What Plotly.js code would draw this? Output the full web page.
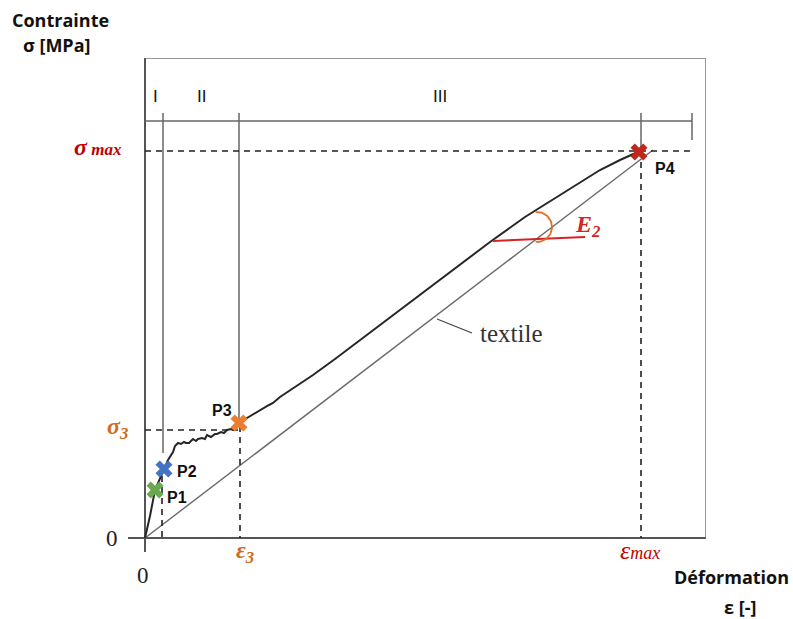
<!DOCTYPE html>
<html>
<head>
<meta charset="utf-8">
<script src="https://cdn.plot.ly/plotly-3.0.1.min.js"></script>
<style>
  html, body { margin: 0; padding: 0; background: #fff; }
  #chart { width: 793px; height: 619px; }
</style>
</head>
<body>
<div id="chart"></div>
<script>
// courbe contrainte - deformation (unites arbitraires)
const epsCourbe = [0, 0.05, 0.10, 0.15, 0.19, 0.23, 0.28, 0.30, 0.33, 0.36, 0.39, 0.41, 0.44, 0.48, 0.51, 0.53, 0.57, 0.60, 0.62, 0.66, 0.70, 0.72, 0.76, 0.79, 0.82, 0.86, 0.88, 0.92, 0.95,
                   1.02, 1.10, 1.17, 1.24, 1.28, 1.35, 1.50, 1.68, 1.90, 2.18, 2.55, 3.05, 3.45, 3.80, 4.15, 4.55, 4.75, 4.95];
const sigCourbe = [0, 0.22, 0.48, 0.60, 0.69, 0.78, 0.86, 0.92, 0.95, 0.94, 0.96, 0.95, 0.95, 0.99, 0.97, 0.99, 1.00, 0.99, 1.03, 1.01, 1.04, 1.04, 1.06, 1.05, 1.08, 1.09, 1.08, 1.12, 1.14,
                   1.20, 1.25, 1.29, 1.33, 1.35, 1.41, 1.51, 1.63, 1.79, 2.00, 2.28, 2.66, 2.96, 3.21, 3.43, 3.68, 3.78, 3.87];

const epsTextile = [0, 5.08];
const sigTextile = [0, 3.88];

// points caracteristiques
const nomsPoints = ["P1", "P2", "P3", "P4"];
const epsPoints = [0.10, 0.19, 0.94, 4.94];
const sigPoints = [0.48, 0.69, 1.15, 3.86];
const couleursPoints = ["#6aa84f", "#4472c4", "#ed7d31", "#c0281e"];

// domaines I, II, III
const nomsDomaines = ["I", "II", "III"];
const epsDomaines = [0.10, 0.56, 2.95];
const epsLimites = [0.18, 0.94, 4.96, 5.47];
const sigBasLimites = [0.85, 1.15, 3.86, 3.98];
const sigLigneHaut = 4.17;
const sigHautTraits = 4.25;

const sigMax = 3.87, epsMax = 4.96;
const sig3 = 1.08, eps3 = 0.95;

// droite E2
const epsE2 = [3.48, 4.40];
const sigE2 = [2.97, 3.01];
const arcCentre = [3.92, 3.11], arcRayon = 0.15;

const xRange = [-0.17, 5.61], yRange = [-0.14, 4.80];

const data = [];

data.push({ x: epsTextile, y: sigTextile, mode: "lines", line: { color: "#6a6a6a", width: 1.4 }, hoverinfo: "skip" });
data.push({ x: epsCourbe, y: sigCourbe, mode: "lines", line: { color: "#262626", width: 2 }, hoverinfo: "skip" });

// lignes pleines des domaines
const lx = [0, epsLimites[3], null], ly = [sigLigneHaut, sigLigneHaut, null];
epsLimites.forEach((e, i) => { lx.push(e, e, null); ly.push(sigHautTraits, sigBasLimites[i], null); });
data.push({ x: lx, y: ly, mode: "lines", line: { color: "#666", width: 1.5 }, hoverinfo: "skip" });

// pointilles
const dx = [0, epsLimites[3], null, 0, eps3 - 0.02, null, 0.17, 0.17, null, eps3, eps3, null, epsMax, epsMax];
const dy = [sigMax, sigMax, null, sig3, sig3, null, 0.62, 0, null, 1.12, 0, null, sigMax, 0];
data.push({ x: dx, y: dy, mode: "lines", line: { color: "#222", width: 1.6, dash: "6px,5px" }, hoverinfo: "skip" });

// E2
data.push({ x: epsE2, y: sigE2, mode: "lines", line: { color: "#d42424", width: 2 }, hoverinfo: "skip" });
const ax = [], ay = [];
for (let a = 95; a >= -95; a -= 5) {
  const t = a * Math.PI / 180;
  ax.push(arcCentre[0] + arcRayon * Math.cos(t));
  ay.push(arcCentre[1] + arcRayon * Math.sin(t));
}
data.push({ x: ax, y: ay, mode: "lines", line: { color: "#e0702a", width: 1.8 }, hoverinfo: "skip" });

// trait "textile"
data.push({ x: [2.92, 3.27], y: [2.19, 2.05], mode: "lines", line: { color: "#444", width: 1.3 }, hoverinfo: "skip" });

data.push({
  x: epsPoints, y: sigPoints, mode: "markers",
  marker: { symbol: "x", size: 15, color: couleursPoints, line: { width: 0 } },
  hoverinfo: "skip"
});

const serif = "Liberation Serif, Times New Roman, serif";
const sans = "Open Sans, Liberation Sans, sans-serif";
const arial = "Liberation Sans, Arial, sans-serif";
const rouge = "#c00000", orange = "#d2691e";

const annotations = [
  { x: -0.85, y: 5.18, text: "<b>Contrainte</b>", font: { family: sans, size: 18, color: "#111" } },
  { x: -0.88, y: 4.93, text: "<b>σ [MPa]</b>", font: { family: sans, size: 18, color: "#111" } },
  { x: 5.86, y: -0.39, text: "<b>Déformation</b>", font: { family: sans, size: 18, color: "#111" } },
  { x: 5.95, y: -0.69, text: "<b>ε [-]</b>", font: { family: sans, size: 18, color: "#111" } },
  { x: -0.33, y: 0, text: "0", font: { family: serif, size: 23, color: "#222" } },
  { x: -0.02, y: -0.37, text: "0", font: { family: serif, size: 23, color: "#222" } },
  { x: -0.47, y: 3.91, text: "<b><i>σ</i></b><b><i><span style='font-size:17px'> max</span></i></b>", font: { family: serif, size: 24, color: rouge } },
  { x: -0.28, y: 1.10, text: "<b><i>σ<sub>3</sub></i></b>", font: { family: serif, size: 24, color: orange } },
  { x: 1.00, y: -0.14, text: "<b><i>ε<sub>3</sub></i></b>", font: { family: serif, size: 24, color: orange } },
  { x: 4.95, y: -0.12, text: "<i>ε<span style='font-size:18px'>max</span></i>", font: { family: serif, size: 26, color: rouge } },
  { x: 4.42, y: 3.12, text: "<b><i>E<sub>2</sub></i></b>", font: { family: serif, size: 24, color: "#d42424" } },
  { x: 3.66, y: 2.05, text: "textile", font: { family: serif, size: 25, color: "#333" } }
];
nomsDomaines.forEach((n, i) => annotations.push({ x: epsDomaines[i], y: 4.41, text: n, font: { family: arial, size: 17, color: "#111" } }));
const decal = [[0.22, -0.07], [0.23, -0.02], [-0.17, 0.13], [0.26, -0.17]];
nomsPoints.forEach((n, i) => annotations.push({
  x: epsPoints[i] + decal[i][0], y: sigPoints[i] + decal[i][1], text: "<b>" + n + "</b>",
  font: { family: arial, size: 16, color: "#111" }
}));
// positions en coordonnees "paper" pour que les textes hors du cadre restent visibles
annotations.forEach(a => {
  a.x = (a.x - xRange[0]) / (xRange[1] - xRange[0]);
  a.y = (a.y - yRange[0]) / (yRange[1] - yRange[0]);
  a.xref = "paper"; a.yref = "paper"; a.showarrow = false;
  a.xanchor = "center"; a.yanchor = "middle";
});

const layout = {
  width: 793, height: 619,
  margin: { l: 128, r: 87, t: 58, b: 67 },
  paper_bgcolor: "#fff", plot_bgcolor: "#fff",
  showlegend: false,
  xaxis: { range: xRange, showgrid: false, showticklabels: false, ticks: "", zeroline: true, zerolinecolor: "#555", zerolinewidth: 1.8, fixedrange: true },
  yaxis: { range: yRange, showgrid: false, showticklabels: false, ticks: "", zeroline: true, zerolinecolor: "#555", zerolinewidth: 1.8, fixedrange: true },
  shapes: [
    { type: "line", xref: "x", yref: "y", x0: 0, x1: xRange[1], y0: yRange[1], y1: yRange[1], line: { color: "#777", width: 1.5 } },
    { type: "line", xref: "x", yref: "y", x0: xRange[1], x1: xRange[1], y0: 0, y1: yRange[1], line: { color: "#777", width: 1.5 } }
  ],
  annotations: annotations
};

Plotly.newPlot("chart", data, layout, { displayModeBar: false, staticPlot: true });
</script>
</body>
</html>
